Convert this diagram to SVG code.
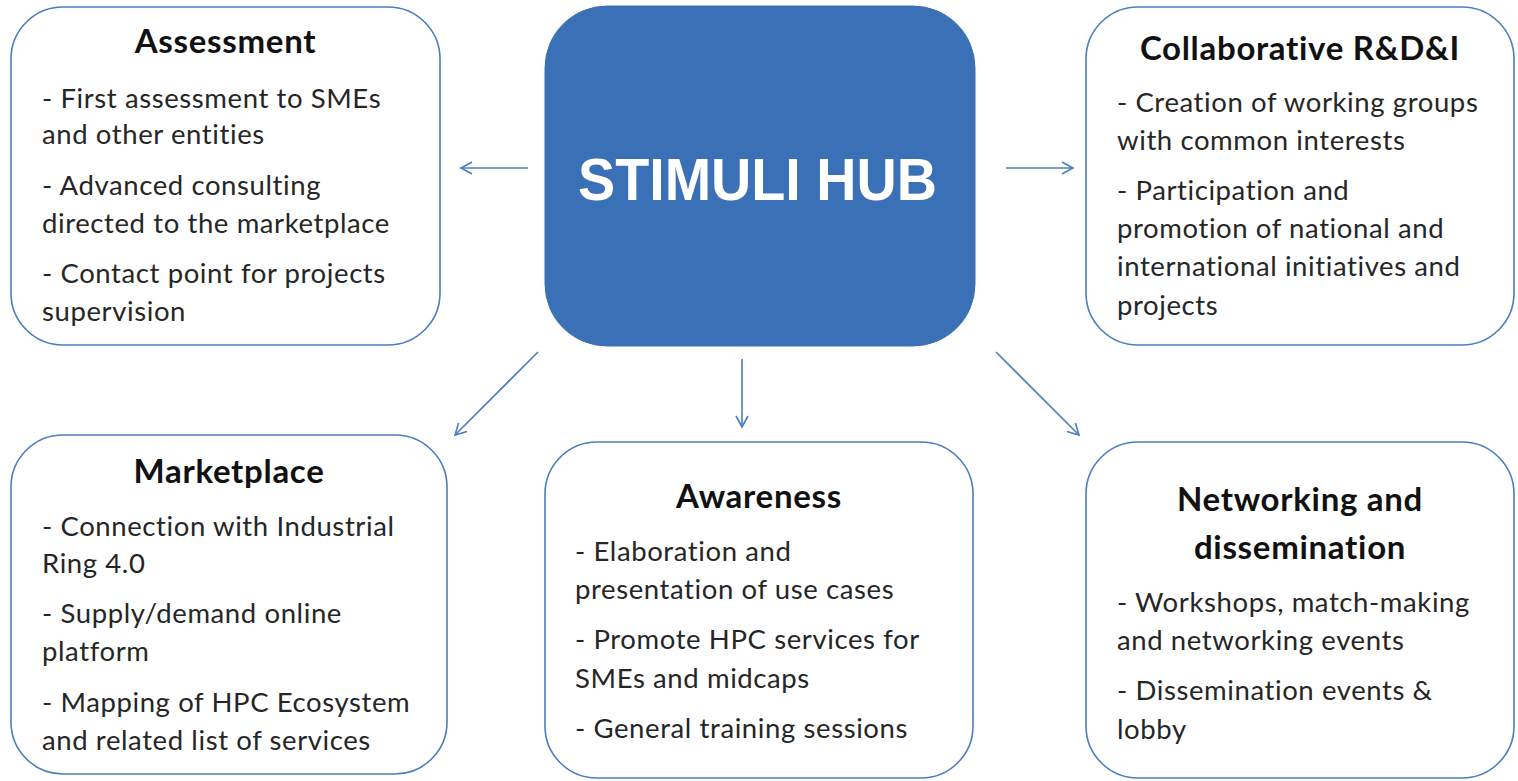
<svg xmlns="http://www.w3.org/2000/svg" width="1518" height="781" viewBox="0 0 1518 781">
<defs>
<style>
.box{fill:#ffffff;stroke:#4a7ebf;stroke-width:1.6}
.hub{fill:#3a70b5;stroke:#3a70b5;stroke-width:1}
.title{font-family:Lato,"Liberation Sans",sans-serif;font-weight:bold;font-size:33px;letter-spacing:0.7px;fill:#111111;text-anchor:middle}
.body{font-family:Lato,"Liberation Sans",sans-serif;font-size:27.5px;letter-spacing:0.6px;fill:#262626}
.hubtext{font-family:"Liberation Sans",Arial,sans-serif;font-weight:bold;font-size:60px;fill:#ffffff}
.conn{stroke:#4a7ebf;stroke-width:1.6;fill:none;marker-end:url(#arr)}
</style>
<marker id="arr" viewBox="0 0 14 14" refX="12" refY="7" markerWidth="14" markerHeight="14" markerUnits="userSpaceOnUse" orient="auto">
<path d="M1,1 L12,7 L1,13" fill="none" stroke="#4a7ebf" stroke-width="1.6"/>
</marker>
</defs>
<rect width="1518" height="781" fill="#ffffff"/>
<g id="connectors">
<line class="conn" x1="528" y1="168" x2="461" y2="168"/>
<line class="conn" x1="1006" y1="168" x2="1073" y2="168"/>
<line class="conn" x1="538" y1="352" x2="455" y2="435"/>
<line class="conn" x1="742" y1="359" x2="742" y2="427"/>
<line class="conn" x1="996" y1="352" x2="1079" y2="435"/>
</g>
<g id="hub">
<rect class="hub" x="545" y="6" width="430" height="340" rx="62" ry="62"/>
<text class="hubtext" x="578" y="200" textLength="359" lengthAdjust="spacingAndGlyphs">STIMULI HUB</text>
</g>
<g id="assessment">
<rect class="box" x="11" y="7" width="429" height="338" rx="52" ry="52"/>
<text class="title" x="225.5" y="53">Assessment</text>
<text class="body" x="42" y="108">- First assessment to SMEs</text>
<text class="body" x="42" y="144">and other entities</text>
<text class="body" x="42" y="195">- Advanced consulting</text>
<text class="body" x="42" y="233">directed to the marketplace</text>
<text class="body" x="42" y="283">- Contact point for projects</text>
<text class="body" x="42" y="321">supervision</text>
</g>
<g id="collaborative">
<rect class="box" x="1086" y="7" width="428" height="338" rx="52" ry="52"/>
<text class="title" x="1300" y="60">Collaborative R&amp;D&amp;I</text>
<text class="body" x="1117" y="112">- Creation of working groups</text>
<text class="body" x="1117" y="150">with common interests</text>
<text class="body" x="1117" y="200">- Participation and</text>
<text class="body" x="1117" y="238">promotion of national and</text>
<text class="body" x="1117" y="276">international initiatives and</text>
<text class="body" x="1117" y="315">projects</text>
</g>
<g id="marketplace">
<rect class="box" x="11" y="435" width="436" height="339" rx="52" ry="52"/>
<text class="title" x="229" y="483">Marketplace</text>
<text class="body" x="42" y="536">- Connection with Industrial</text>
<text class="body" x="42" y="573">Ring 4.0</text>
<text class="body" x="42" y="623">- Supply/demand online</text>
<text class="body" x="42" y="661">platform</text>
<text class="body" x="42" y="712">- Mapping of HPC Ecosystem</text>
<text class="body" x="42" y="750">and related list of services</text>
</g>
<g id="awareness">
<rect class="box" x="545" y="442" width="428" height="336" rx="52" ry="52"/>
<text class="title" x="759" y="508">Awareness</text>
<text class="body" x="575" y="561">- Elaboration and</text>
<text class="body" x="575" y="599">presentation of use cases</text>
<text class="body" x="575" y="649">- Promote HPC services for</text>
<text class="body" x="575" y="688">SMEs and midcaps</text>
<text class="body" x="575" y="738">- General training sessions</text>
</g>
<g id="networking">
<rect class="box" x="1086" y="442" width="428" height="336" rx="52" ry="52"/>
<text class="title" x="1300" y="511">Networking and</text>
<text class="title" x="1300" y="559">dissemination</text>
<text class="body" x="1117" y="612">- Workshops, match-making</text>
<text class="body" x="1117" y="650">and networking events</text>
<text class="body" x="1117" y="700">- Dissemination events &amp;</text>
<text class="body" x="1117" y="739">lobby</text>
</g>
</svg>
